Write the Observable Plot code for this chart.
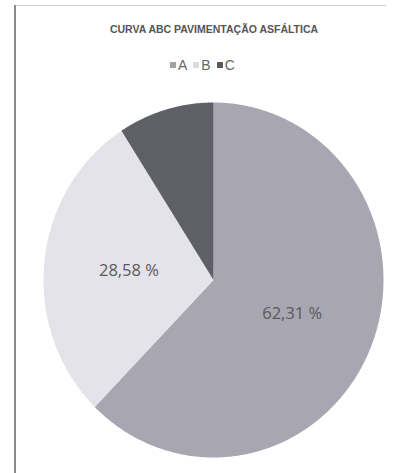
<!DOCTYPE html>
<html>
<head>
<meta charset="utf-8">
<script src="https://cdn.jsdelivr.net/npm/d3@7"></script>
<script src="https://cdn.jsdelivr.net/npm/@observablehq/plot@0.6"></script>
<style>
  html, body { margin: 0; padding: 0; background: #fff; }
  #wrap { position: relative; width: 395px; height: 473px; overflow: hidden; background: #fff; font-family: "Liberation Sans", Arial, sans-serif; }
  #lborder { position: absolute; left: 14px; top: 5px; width: 2px; height: 468px; background: #8a8a8a; }
  #tborder { position: absolute; left: 16px; top: 5px; width: 370px; height: 1px; background: #cfcfcf; }
  #title { position: absolute; left: 0; width: 428px; top: 23px; text-align: center; font-size: 10.5px; font-weight: bold; color: #555; letter-spacing: 0px; }
  #legend { position: absolute; left: 170px; top: 57px; font-size: 14px; color: #666; display: flex; align-items: center; white-space: nowrap; }
  #legend .sw { display: inline-block; width: 6px; height: 6px; margin-right: 2px; }
  #legend .it { display: inline-flex; align-items: center; margin-right: 6px; }
  #chart { position: absolute; left: 0; top: 95px; }
</style>
</head>
<body>
<div id="wrap">
  <div id="lborder"></div>
  <div id="tborder"></div>
  <div id="title"></div>
  <div id="legend"></div>
  <div id="chart"></div>
</div>
<script>
const titleText = "CURVA ABC PAVIMENTAÇÃO ASFÁLTICA";
const categories = ["A", "B", "C"];
const shares = [62.31, 28.58, 9.11];
const labels = ["62,31 %", "28,58 %", ""];
const sliceColors = ["#a8a6b1", "#e4e3e9", "#5e5f67"];
const legendColors = ["#a2a2a4", "#dcdcde", "#5a5a5e"];

document.getElementById("title").textContent = titleText;

const legend = document.getElementById("legend");
categories.forEach((c, i) => {
  const it = document.createElement("span");
  it.className = "it";
  const sw = document.createElement("span");
  sw.className = "sw";
  sw.style.background = legendColors[i];
  it.appendChild(sw);
  it.appendChild(document.createTextNode(c));
  legend.appendChild(it);
});

// Pie geometry: start at 12 o'clock, clockwise (Excel default)
const pie = d3.pie().sort(null).value(d => d.value)(categories.map((c, i) => ({cat: c, value: shares[i], label: labels[i]})));
const polys = [];
pie.forEach(p => {
  polys.push({cat: p.data.cat, x: 0, y: 0});
  const n = Math.max(2, Math.ceil((p.endAngle - p.startAngle) / 0.01));
  for (let k = 0; k <= n; k++) {
    const a = p.startAngle + (p.endAngle - p.startAngle) * k / n;
    polys.push({cat: p.data.cat, x: Math.sin(a), y: Math.cos(a)});
  }
  polys.push({cat: p.data.cat, x: 0, y: 0});
});
const lab = pie.filter(p => p.data.label).map(p => {
  const a = (p.startAngle + p.endAngle) / 2;
  return {x: 0.5 * Math.sin(a), y: 0.5 * Math.cos(a), text: p.data.label};
});

const chart = Plot.plot({
  width: 395,
  height: 378,
  marginLeft: 43,
  marginRight: 12,
  marginTop: 7,
  marginBottom: 16,
  x: {domain: [-1, 1], axis: null},
  y: {domain: [-1, 1], axis: null},
  color: {domain: categories, range: sliceColors},
  marks: [
    Plot.line(polys, {x: "x", y: "y", z: "cat", fill: "cat", stroke: "none", curve: "linear"}),
    Plot.text(lab, {x: "x", y: "y", text: "text", fontSize: 16.5, fill: "#5a5a5a", fontFamily: "Open Sans"})
  ]
});
document.getElementById("chart").appendChild(chart);
</script>
</body>
</html>
